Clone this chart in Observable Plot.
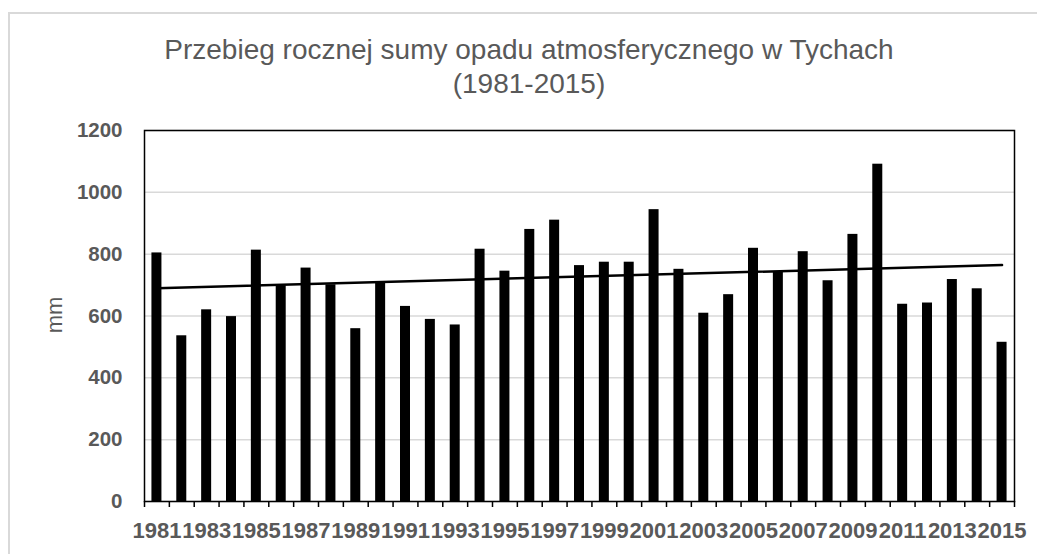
<!DOCTYPE html>
<html><head><meta charset="utf-8">
<script src="https://cdn.jsdelivr.net/npm/d3@7"></script>
<script src="https://cdn.jsdelivr.net/npm/@observablehq/plot@0.6"></script>
<style>
html,body{margin:0;padding:0;background:#fff;overflow:hidden;width:1037px;height:554px}
#frame{position:absolute;left:8px;top:12px;width:1100px;height:600px;border:2px solid #d9d9d9;box-sizing:border-box}
#title{position:absolute;left:8px;width:1042px;top:33px;text-align:center;font-family:"Liberation Sans",Arial,sans-serif;font-size:28px;color:#595959;line-height:34px}
#ylabel{position:absolute;left:55px;top:315px;transform:translate(-50%,-50%) rotate(-90deg);font-family:"Liberation Sans",Arial,sans-serif;font-size:22px;color:#595959;line-height:1;white-space:nowrap}
#chart{position:absolute;left:0;top:110px}
</style>
</head><body>
<div id="frame"></div>
<div id="title">Przebieg rocznej sumy opadu atmosferycznego w Tychach<br>(1981-2015)</div>
<div id="ylabel">mm</div>
<div id="chart"></div>
<script>
const years = [1981,1982,1983,1984,1985,1986,1987,1988,1989,1990,1991,1992,1993,1994,1995,1996,1997,1998,1999,2000,2001,2002,2003,2004,2005,2006,2007,2008,2009,2010,2011,2012,2013,2014,2015];
const precipitation = [804,536,620,598,813,698,755,701,559,706,631,589,571,816,745,880,910,763,774,774,944,751,609,669,819,741,808,714,864,1091,638,642,718,688,515];
const yTicks = [0,200,400,600,800,1000,1200];
const xLabelYears = years.filter((y, i) => i % 2 === 0);

const data = years.map((year, i) => ({year, value: precipitation[i]}));
const W = 1037, H = 444, mL = 144, mR = 23, mT = 20, mB = 53;
const step = (W - mL - mR) / years.length;
const barWidth = 10;
const inset = (step - barWidth) / 2;
const boundaries = [...years.map(y => y - 0.5), years[years.length - 1] + 0.5];
const tickFont = '"Liberation Sans", Arial, sans-serif';

const chart = Plot.plot({
  width: W, height: H,
  marginLeft: mL, marginRight: mR, marginTop: mT, marginBottom: mB,
  style: {fontFamily: tickFont, background: "transparent", overflow: "visible"},
  x: {domain: [years[0] - 0.5, years[years.length - 1] + 0.5]},
  y: {domain: [0, 1200]},
  marks: [
    Plot.gridY(yTicks, {stroke: "#d9d9d9", strokeOpacity: 1, strokeWidth: 1.5}),
    Plot.rectY(data, {x1: d => d.year - 0.5, x2: d => d.year + 0.5, y: "value", fill: "black", insetLeft: inset, insetRight: inset}),
    Plot.linearRegressionY(data, {x: "year", y: "value", stroke: "black", strokeWidth: 2.5, ci: 0}),
    Plot.frame({stroke: "black", strokeWidth: 1.5}),
    Plot.axisY(yTicks, {tickSize: 0, tickPadding: 22, fontSize: 20.5, fontWeight: "bold", fill: "#595959", label: null, tickFormat: d => String(d)}),
    Plot.axisX(boundaries, {tickSize: 6, tickFormat: () => "", stroke: "black", strokeWidth: 1.5, strokeOpacity: 1, label: null}),
    Plot.axisX(xLabelYears, {tickSize: 0, tickPadding: 21, tickFormat: d => String(d), fontSize: 22, fontWeight: "bold", fill: "#595959", label: null})
  ]
});
document.getElementById("chart").appendChild(chart);
</script>
</body></html>
